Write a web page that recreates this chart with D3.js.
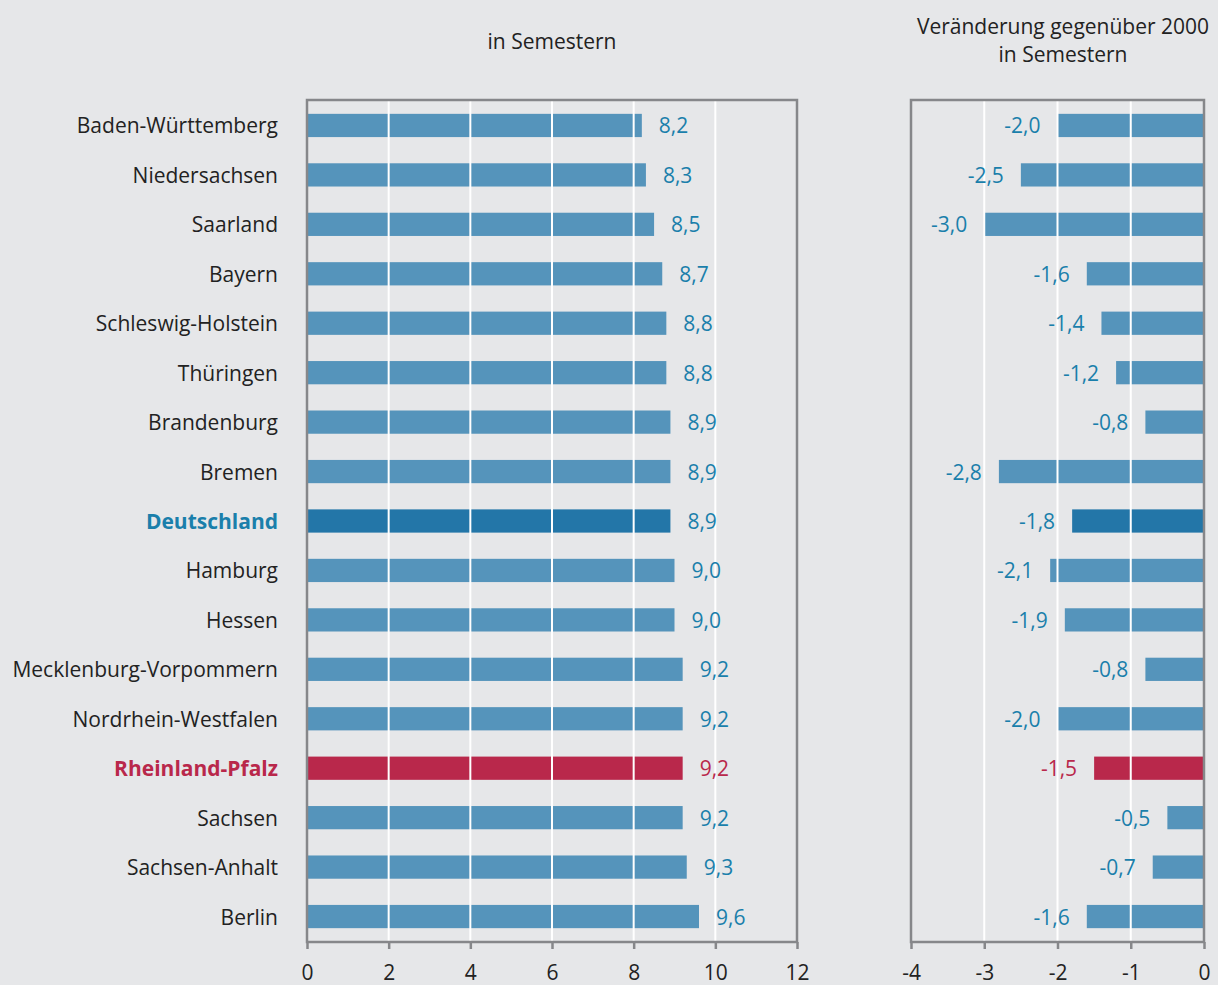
<!DOCTYPE html>
<html><head><meta charset="utf-8">
<script src="https://cdn.jsdelivr.net/npm/d3@7"></script>
<style>
html,body{margin:0;padding:0;background:#e6e7e9;}
svg{display:block;font-family:"Open Sans",sans-serif;}
</style></head><body>
<svg id="c" width="1218" height="985"></svg>
<script>
const categories = ["Baden-Württemberg","Niedersachsen","Saarland","Bayern","Schleswig-Holstein","Thüringen","Brandenburg","Bremen","Deutschland","Hamburg","Hessen","Mecklenburg-Vorpommern","Nordrhein-Westfalen","Rheinland-Pfalz","Sachsen","Sachsen-Anhalt","Berlin"];
const semesters = [8.2,8.3,8.5,8.7,8.8,8.8,8.9,8.9,8.9,9.0,9.0,9.2,9.2,9.2,9.2,9.3,9.6];
const change2000 = [-2.0,-2.5,-3.0,-1.6,-1.4,-1.2,-0.8,-2.8,-1.8,-2.1,-1.9,-0.8,-2.0,-1.5,-0.5,-0.7,-1.6];
const leftTicks = [0,2,4,6,8,10,12];
const rightTicks = [-4,-3,-2,-1,0];
const leftTitle = ["in Semestern"];
const rightTitle = ["Veränderung gegenüber 2000","in Semestern"];

const highlight = {"Deutschland":"de","Rheinland-Pfalz":"rp"};
const barColor = d => highlight[d]==="de" ? "#2376a8" : highlight[d]==="rp" ? "#b9284b" : "#5594bb";
const labelColor = d => highlight[d]==="rp" ? "#b9284b" : "#1a7fab";
const catColor = d => highlight[d]==="de" ? "#1a7fab" : highlight[d]==="rp" ? "#b9284b" : "#222";
const fmt = v => d3.format(".1f")(v).replace(".",",").replace("−","-");

const svg = d3.select("#c");
const plotTop = 100, plotBottom = 942;
const FS = 21;
const y = d3.scaleBand().domain(categories).range([plotTop,plotBottom]).paddingInner(0.53).paddingOuter(0.28);

function panel(x, values, ticks, side){
  const g = svg.append("g");
  const [x0,x1] = x.range();
  g.selectAll("rect.bar").data(categories).join("rect")
    .attr("x", (d,i)=> Math.min(x(0), x(values[i])))
    .attr("y", d=>y(d))
    .attr("width", (d,i)=> Math.abs(x(values[i])-x(0)))
    .attr("height", y.bandwidth())
    .attr("fill", d=>barColor(d));
  g.selectAll("line.grid").data(ticks.filter(t=>x(t)>x0+1 && x(t)<x1-1)).join("line")
    .attr("x1", d=>x(d)).attr("x2", d=>x(d)).attr("y1", plotTop).attr("y2", plotBottom)
    .attr("stroke","#fff").attr("stroke-width",2);
  g.append("rect").attr("x",x0).attr("y",plotTop).attr("width",x1-x0).attr("height",plotBottom-plotTop)
    .attr("fill","none").attr("stroke","#86878a").attr("stroke-width",2.5);
  const ax = g.append("g").attr("transform",`translate(0,${plotBottom})`)
    .call(d3.axisBottom(x).tickValues(ticks).tickSize(7).tickPadding(16).tickFormat(d=>String(d)));
  ax.select(".domain").remove();
  ax.selectAll(".tick line").attr("stroke","#86878a").attr("stroke-width",2.5);
  ax.selectAll(".tick text").attr("font-size",FS).attr("fill","#222").attr("font-family","Open Sans, sans-serif");
  g.selectAll("text.val").data(categories).join("text")
    .attr("x",(d,i)=> side==="left" ? x(values[i])+17 : x(values[i])-17)
    .attr("y", d=>y(d)+y.bandwidth()/2)
    .attr("dy","0.38em")
    .attr("text-anchor", side==="left" ? "start" : "end")
    .attr("font-size",FS).attr("fill",d=>labelColor(d))
    .text((d,i)=>fmt(values[i]));
}

const xL = d3.scaleLinear().domain([0,12]).range([307,797]);
const xR = d3.scaleLinear().domain([-4,0]).range([911,1204]);
panel(xL, semesters, leftTicks, "left");
panel(xR, change2000, rightTicks, "right");

svg.append("g").selectAll("text").data(categories).join("text")
  .attr("x",278).attr("y",d=>y(d)+y.bandwidth()/2).attr("dy","0.38em")
  .attr("text-anchor","end").attr("font-size",FS)
  .attr("font-weight",d=>highlight[d]?"bold":"normal")
  .attr("fill",d=>catColor(d)).text(d=>d);

svg.append("g").selectAll("text").data(leftTitle).join("text")
  .attr("x",552).attr("y",(d,i)=>49+i*28).attr("text-anchor","middle")
  .attr("font-size",FS).attr("fill","#222").text(d=>d);
svg.append("g").selectAll("text").data(rightTitle).join("text")
  .attr("x",1063).attr("y",(d,i)=>34+i*28).attr("text-anchor","middle")
  .attr("font-size",FS).attr("fill","#222").text(d=>d);
</script>
</body></html>
